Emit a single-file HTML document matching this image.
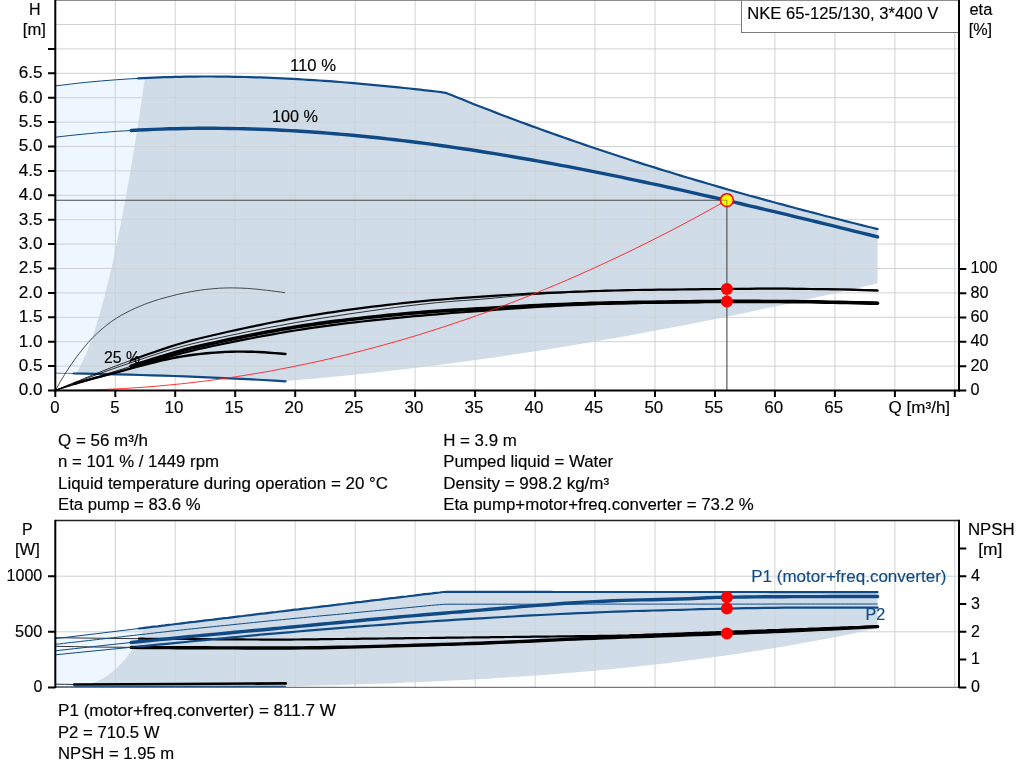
<!DOCTYPE html>
<html lang="en"><head><meta charset="utf-8"><title>NKE 65-125/130, 3*400 V</title>
<style>
html,body{margin:0;padding:0;background:#fff;overflow:hidden}
body{width:1024px;height:781px;position:relative;font-family:'Liberation Sans', Arial, sans-serif}
svg text{white-space:pre;stroke-width:0.15px;paint-order:stroke}
</style></head><body>
<svg width="1024" height="781" viewBox="0 0 1024 781" style="position:absolute;left:0;top:0">
<rect x="0" y="0" width="1024" height="781" fill="#fff"/>
<path d="M55.3 85.9L58.4 85.5L61.5 85.1L64.6 84.8L67.7 84.4L70.7 84L73.8 83.7L76.9 83.3L80 83L83.1 82.7L86.2 82.4L89.3 82.1L92.4 81.8L95.4 81.5L98.5 81.2L101.6 80.9L104.7 80.7L107.8 80.4L110.9 80.2L114 79.9L117.1 79.7L120.1 79.5L123.2 79.3L126.3 79.1L129.4 78.9L132.5 78.7L135.6 78.5L138.7 78.4L141.8 78.2L144.9 78L144.9 78L143.1 90.1L141.3 102L139.6 113.7L137.8 125.2L136 136.4L134.3 147.3L132.5 158L130.8 168.5L129 178.8L127.2 188.8L125.5 198.5L123.7 208L122 217.3L120.2 226.3L118.4 235.1L116.7 243.6L114.9 251.9L113.2 260L111.4 267.8L109.6 275.4L107.9 282.7L106.1 289.8L104.4 296.7L102.6 303.3L100.8 309.7L99.1 315.8L97.3 321.7L95.6 327.3L93.8 332.7L92 337.9L90.3 342.8L88.5 347.5L86.8 351.9L85 356.1L83.2 360.1L81.5 363.8L79.7 367.3L78 370.5L76.2 373.5L76.2 373.5L71 373.4L65.8 373.4L60.5 373.3L55.3 373.2Z" fill="#eef6ff"/>
<path d="M76.2 373.5L78 370.5L79.7 367.3L81.5 363.8L83.2 360.1L85 356.1L86.8 351.9L88.5 347.5L90.3 342.8L92 337.9L93.8 332.7L95.6 327.3L97.3 321.7L99.1 315.8L100.8 309.7L102.6 303.3L104.4 296.7L106.1 289.8L107.9 282.7L109.6 275.4L111.4 267.8L113.2 260L114.9 251.9L116.7 243.6L118.4 235.1L120.2 226.3L122 217.3L123.7 208L125.5 198.5L127.2 188.8L129 178.8L130.8 168.5L132.5 158L134.3 147.3L136 136.4L137.8 125.2L139.6 113.7L141.3 102L143.1 90.1L144.9 78L144.9 78L151 77.8L157.2 77.5L163.3 77.3L169.5 77.1L175.6 76.9L181.8 76.8L188 76.7L194.1 76.6L200.3 76.6L206.4 76.5L212.6 76.5L218.7 76.6L224.9 76.6L231.1 76.7L237.2 76.8L243.4 76.9L249.5 77.1L255.7 77.3L261.8 77.5L268 77.7L274.2 78L280.3 78.3L286.5 78.5L292.6 78.9L298.8 79.2L304.9 79.6L311.1 80L317.3 80.4L323.4 80.8L329.6 81.2L335.7 81.7L341.9 82.2L348 82.7L354.2 83.2L360.4 83.7L366.5 84.3L372.7 84.8L378.8 85.4L385 86L391.2 86.6L397.3 87.2L403.5 87.9L409.6 88.5L415.8 89.2L421.9 89.9L428.1 90.6L434.3 91.3L440.4 92L446.6 93.1L452.7 95.6L458.9 98.1L465 100.6L471.2 103L477.4 105.4L483.5 107.9L489.7 110.2L495.8 112.6L502 115L508.1 117.3L514.3 119.6L520.5 121.9L526.6 124.2L532.8 126.4L538.9 128.7L545.1 130.9L551.2 133.1L557.4 135.3L563.6 137.4L569.7 139.6L575.9 141.7L582 143.8L588.2 145.9L594.4 148L600.5 150.1L606.7 152.1L612.8 154.2L619 156.2L625.1 158.2L631.3 160.2L637.5 162.1L643.6 164.1L649.8 166L655.9 168L662.1 169.9L668.2 171.8L674.4 173.6L680.6 175.5L686.7 177.4L692.9 179.2L699 181L705.2 182.9L711.3 184.7L717.5 186.4L723.7 188.2L729.8 190L736 191.7L742.1 193.5L748.3 195.2L754.4 196.9L760.6 198.6L766.8 200.3L772.9 202L779.1 203.7L785.2 205.3L791.4 207L797.6 208.6L803.7 210.3L809.9 211.9L816 213.5L822.2 215.1L828.3 216.7L834.5 218.3L840.7 219.8L846.8 221.4L853 223L859.1 224.5L865.3 226L871.4 227.6L877.6 229.1L877.6 283.3L862.4 286.9L847.2 290.4L832.1 293.9L816.9 297.3L801.7 300.7L786.5 304L771.3 307.3L756.2 310.5L741 313.7L725.8 316.8L710.6 319.9L695.4 322.9L680.3 325.9L665.1 328.8L649.9 331.6L634.7 334.4L619.5 337.2L604.4 339.8L589.2 342.5L574 345L558.8 347.5L543.7 349.9L528.5 352.3L513.3 354.6L498.1 356.9L482.9 359L467.8 361.1L452.6 363.2L437.4 365.1L422.2 367.1L407 368.9L391.9 370.6L376.7 372.3L361.5 374L346.3 375.5L331.1 377L316 378.4L300.8 379.7L285.6 380.9L285.6 381.3L274.6 380.6L263.6 380L252.5 379.4L241.5 378.9L230.5 378.4L219.5 377.9L208.5 377.4L197.4 376.9L186.4 376.5L175.4 376.1L164.4 375.7L153.3 375.3L142.3 375L131.3 374.7L120.3 374.4L109.3 374.2L98.2 373.9L87.2 373.7L76.2 373.5Z" fill="#d0dce8"/>
<path d="M115.3 0V390.5M175.2 0V390.5M235.2 0V390.5M295.2 0V390.5M355.2 0V390.5M415.1 0V390.5M475.1 0V390.5M535.1 0V390.5M595 0V390.5M655 0V390.5M715 0V390.5M774.9 0V390.5M834.9 0V390.5M894.9 0V390.5M954.8 0V390.5M55.3 366.1H959M55.3 341.7H959M55.3 317.3H959M55.3 292.9H959M55.3 268.5H959M55.3 244.1H959M55.3 219.7H959M55.3 195.3H959M55.3 170.9H959M55.3 146.5H959M55.3 122.1H959M55.3 97.7H959M55.3 73.3H959M55.3 48.9H959M55.3 24.5H959" stroke="#ced2d4" stroke-width="1" fill="none"/>
<rect x="741.5" y="0.5" width="218" height="32" fill="#fff" stroke="#7c7c7c" stroke-width="1"/>
<path d="M55.3 0.5H959" stroke="#8c8c8c" stroke-width="1"/>
<path d="M55.3 200.2H726.9V390.5" stroke="#484b4e" stroke-width="1.1" fill="none"/>
<g font-family="'Liberation Sans', Arial, sans-serif" font-size="16">
<text x="290" y="71.2" text-anchor="start" fill="#000" stroke="#000" font-size="16" textLength="46" lengthAdjust="spacingAndGlyphs">110 %</text>
<text x="272" y="121.6" text-anchor="start" fill="#000" stroke="#000" font-size="16" textLength="46" lengthAdjust="spacingAndGlyphs">100 %</text>
<text x="104" y="362.5" text-anchor="start" fill="#000" stroke="#000" font-size="16" textLength="36" lengthAdjust="spacingAndGlyphs">25 %</text>
</g>
<path d="M55.3 85.9L62.8 85L70.4 84.1L77.9 83.2L85.4 82.4L93 81.7L100.5 81L108.1 80.4L115.6 79.8L123.1 79.3L130.7 78.8L138.2 78.4" stroke="#104a86" stroke-width="1" fill="none" stroke-linecap="butt" stroke-linejoin="round"/>
<path d="M138.2 78.4L143.5 78.1L148.8 77.9L154.2 77.6L159.5 77.4L164.8 77.2L170.1 77.1L175.4 76.9L180.8 76.8L186.1 76.7L191.4 76.6L196.7 76.6L202 76.5L207.4 76.5L212.7 76.5L218 76.6L223.3 76.6L228.6 76.7L233.9 76.8L239.3 76.9L244.6 77L249.9 77.1L255.2 77.3L260.5 77.4L265.9 77.6L271.2 77.9L276.5 78.1L281.8 78.3L287.1 78.6L292.5 78.9L297.8 79.2L303.1 79.5L308.4 79.8L313.7 80.1L319.1 80.5L324.4 80.8L329.7 81.2L335 81.6L340.3 82L345.7 82.5L351 82.9L356.3 83.3L361.6 83.8L366.9 84.3L372.3 84.8L377.6 85.3L382.9 85.8L388.2 86.3L393.5 86.9L398.9 87.4L404.2 88L409.5 88.5L414.8 89.1L420.1 89.7L425.4 90.3L430.8 90.9L436.1 91.5L441.4 92.1L446.7 93.2L452 95.3L457.4 97.5L462.7 99.6L468 101.7L473.3 103.9L478.6 106L484 108L489.3 110.1L494.6 112.1L499.9 114.2L505.2 116.2L510.6 118.2L515.9 120.2L521.2 122.2L526.5 124.1L531.8 126.1L537.2 128L542.5 130L547.8 131.9L553.1 133.8L558.4 135.6L563.8 137.5L569.1 139.4L574.4 141.2L579.7 143L585 144.9L590.4 146.7L595.7 148.5L601 150.2L606.3 152L611.6 153.8L616.9 155.5L622.3 157.3L627.6 159L632.9 160.7L638.2 162.4L643.5 164.1L648.9 165.7L654.2 167.4L659.5 169.1L664.8 170.7L670.1 172.3L675.5 174L680.8 175.6L686.1 177.2L691.4 178.8L696.7 180.4L702.1 181.9L707.4 183.5L712.7 185L718 186.6L723.3 188.1L728.7 189.7L734 191.2L739.3 192.7L744.6 194.2L749.9 195.7L755.3 197.1L760.6 198.6L765.9 200.1L771.2 201.5L776.5 203L781.9 204.4L787.2 205.9L792.5 207.3L797.8 208.7L803.1 210.1L808.4 211.5L813.8 212.9L819.1 214.3L824.4 215.7L829.7 217L835 218.4L840.4 219.8L845.7 221.1L851 222.5L856.3 223.8L861.6 225.1L867 226.5L872.3 227.8L877.6 229.1" stroke="#104a86" stroke-width="2.2" fill="none" stroke-linecap="round" stroke-linejoin="round"/>
<path d="M55.3 137.2L62.2 136.4L69.1 135.6L76 134.9L82.9 134.2L89.8 133.5L96.7 132.9L103.6 132.4L110.5 131.8L117.4 131.3L124.3 130.9L131.2 130.5" stroke="#104a86" stroke-width="1" fill="none" stroke-linecap="butt" stroke-linejoin="round"/>
<path d="M131.2 130.5L138.7 130L146.3 129.7L153.8 129.4L161.4 129.1L168.9 128.8L176.4 128.7L184 128.5L191.5 128.4L199.1 128.3L206.6 128.3L214.1 128.3L221.7 128.4L229.2 128.5L236.8 128.6L244.3 128.8L251.8 129L259.4 129.2L266.9 129.5L274.4 129.8L282 130.2L289.5 130.6L297.1 131L304.6 131.5L312.1 132L319.7 132.5L327.2 133.1L334.8 133.7L342.3 134.4L349.8 135L357.4 135.7L364.9 136.5L372.5 137.2L380 138L387.5 138.9L395.1 139.7L402.6 140.6L410.2 141.5L417.7 142.5L425.2 143.4L432.8 144.4L440.3 145.5L447.9 146.5L455.4 147.6L462.9 148.7L470.5 149.8L478 151L485.6 152.2L493.1 153.4L500.6 154.6L508.2 155.9L515.7 157.2L523.2 158.5L530.8 159.8L538.3 161.1L545.9 162.5L553.4 163.9L560.9 165.3L568.5 166.7L576 168.2L583.6 169.6L591.1 171.1L598.6 172.6L606.2 174.1L613.7 175.7L621.3 177.2L628.8 178.8L636.3 180.4L643.9 182L651.4 183.6L659 185.2L666.5 186.9L674 188.5L681.6 190.2L689.1 191.9L696.7 193.6L704.2 195.3L711.7 197L719.3 198.7L726.8 200.5L734.4 202.2L741.9 204L749.4 205.8L757 207.5L764.5 209.3L772 211.1L779.6 212.9L787.1 214.7L794.7 216.6L802.2 218.4L809.7 220.2L817.3 222L824.8 223.9L832.4 225.7L839.9 227.6L847.4 229.4L855 231.3L862.5 233.1L870.1 235L877.6 236.9" stroke="#104a86" stroke-width="3.4" fill="none" stroke-linecap="round" stroke-linejoin="round"/>
<path d="M55.3 373.2L61.4 373.3L67.5 373.4L73.6 373.5" stroke="#5f7fa8" stroke-width="1" fill="none" stroke-linecap="butt" stroke-linejoin="round"/>
<path d="M73.6 373.5L84.8 373.7L95.9 373.9L107.1 374.1L118.2 374.4L129.4 374.6L140.5 375L151.7 375.3L162.9 375.6L174 376L185.2 376.4L196.3 376.9L207.5 377.3L218.7 377.8L229.8 378.3L241 378.9L252.1 379.4L263.3 380L274.4 380.6L285.6 381.3" stroke="#104a86" stroke-width="2.2" fill="none" stroke-linecap="round" stroke-linejoin="round"/>
<path d="M55.3 390.5L60 382.2L64.7 374.4L69.4 367.1L74.1 360.3L78.8 354L83.5 348.1L88.1 342.6L92.8 337.6L97.5 333L102.2 328.8L106.9 324.9L111.6 321.4L116.3 318.3L121 315.4L125.7 312.9L130.4 310.5L135.1 308.3L139.8 306.3L144.4 304.4L149.1 302.7L153.8 301L158.5 299.5L163.2 298.2L167.9 296.9L172.6 295.7L177.3 294.5L182 293.5L186.7 292.5L191.4 291.6L196.1 290.8L200.7 290.1L205.4 289.5L210.1 289L214.8 288.6L219.5 288.2L224.2 288L228.9 287.9L233.6 287.9L238.3 288L243 288.2L247.7 288.4L252.4 288.8L257 289.2L261.7 289.7L266.4 290.2L271.1 290.8L275.8 291.4L280.5 292L285.2 292.7" stroke="#1a1a1a" stroke-width="0.75" fill="none" stroke-linecap="butt" stroke-linejoin="round"/>
<path d="M55.3 390.5L59.1 389L62.9 387.6L66.6 386.3L70.4 385L74.2 383.8" stroke="#000" stroke-width="0.8" fill="none" stroke-linecap="butt" stroke-linejoin="round"/>
<path d="M74.2 383.8L79.6 382.2L85 380.6L90.5 379.1L95.9 377.7L101.3 376.3L106.7 374.9L112.1 373.5L117.5 372.1L123 370.6L128.4 369.2L133.8 367.7L139.2 366.2L144.6 364.8L150.1 363.4L155.5 362L160.9 360.7L166.3 359.5L171.7 358.4L177.1 357.3L182.6 356.4L188 355.5L193.4 354.8L198.8 354.1L204.2 353.5L209.6 353L215.1 352.6L220.5 352.2L225.9 351.9L231.3 351.7L236.7 351.6L242.2 351.6L247.6 351.7L253 351.8L258.4 352L263.8 352.3L269.2 352.7L274.7 353.1L280.1 353.5L285.5 354" stroke="#000" stroke-width="2.4" fill="none" stroke-linecap="round" stroke-linejoin="round"/>
<path d="M55.3 390.5L59.3 388.8L63.3 387.1L67.3 385.4L71.3 383.8L75.3 382.1L79.3 380.5L83.3 378.8L87.3 377.2L91.3 375.6L95.2 374L99.2 372.4L103.2 370.8L107.2 369.2L111.2 367.7L115.2 366.2L119.2 364.7L123.2 363.2L127.2 361.7L131.2 360.3" stroke="#000" stroke-width="0.8" fill="none" stroke-linecap="butt" stroke-linejoin="round"/>
<path d="M131.2 360.3L138.7 357.5L146.3 354.8L153.8 352.2L161.4 349.6L168.9 347.1L176.4 344.8L184 342.5L191.5 340.4L199.1 338.5L206.6 336.7L214.1 335L221.7 333.3L229.2 331.5L236.8 329.9L244.3 328.2L251.8 326.6L259.4 325.1L266.9 323.5L274.4 322L282 320.6L289.5 319.2L297.1 317.8L304.6 316.5L312.1 315.3L319.7 314.1L327.2 312.9L334.8 311.8L342.3 310.7L349.8 309.7L357.4 308.7L364.9 307.7L372.5 306.7L380 305.8L387.5 304.9L395.1 304L402.6 303.2L410.2 302.4L417.7 301.6L425.2 300.9L432.8 300.2L440.3 299.6L447.9 299L455.4 298.4L462.9 297.9L470.5 297.4L478 296.9L485.6 296.4L493.1 295.9L500.6 295.4L508.2 295L515.7 294.5L523.2 294L530.8 293.6L538.3 293.3L545.9 292.9L553.4 292.6L560.9 292.3L568.5 292L576 291.7L583.6 291.5L591.1 291.2L598.6 291L606.2 290.7L613.7 290.5L621.3 290.3L628.8 290.1L636.3 290L643.9 289.9L651.4 289.8L659 289.7L666.5 289.7L674 289.6L681.6 289.5L689.1 289.4L696.7 289.3L704.2 289.2L711.7 289.1L719.3 289L726.8 288.9L734.4 288.9L741.9 288.8L749.4 288.8L757 288.7L764.5 288.7L772 288.7L779.6 288.7L787.1 288.7L794.7 288.8L802.2 288.9L809.7 289L817.3 289.1L824.8 289.2L832.4 289.3L839.9 289.5L847.4 289.7L855 289.9L862.5 290.1L870.1 290.3L877.6 290.6" stroke="#000" stroke-width="2.2" fill="none" stroke-linecap="round" stroke-linejoin="round"/>
<path d="M55.3 390.5L63.6 387.2L71.9 383.9L80.2 380.8L88.5 377.7L96.8 374.6L105.1 371.6L113.4 368.7L121.7 365.8L130.1 363L138.4 360.1L146.7 357.3L155 354.6L163.3 351.9L171.6 349.4L179.9 347L188.2 344.8L196.5 342.8L204.8 340.9L213.1 339.1L221.4 337.3L229.7 335.5L238 333.8L246.3 332L254.6 330.4L263 328.7L271.3 327.1L279.6 325.6L287.9 324L296.2 322.5L304.5 321.1L312.8 319.7L321.1 318.3L329.4 317L337.7 315.7L346 314.4L354.3 313.2L362.6 312L370.9 310.8L379.2 309.6L387.5 308.5L395.8 307.4L404.2 306.3L412.5 305.3L420.8 304.4L429.1 303.5L437.4 302.6L445.7 301.9L454 301.2L462.3 300.6L470.6 300L478.9 299.4L487.2 298.7L495.5 297.9L503.8 297.1L512.1 296.3L520.4 295.6L528.7 294.9L537.1 294.3L545.4 293.8L553.7 293.3L562 292.9L570.3 292.5L578.6 292.1L586.9 291.7L595.2 291.4L603.5 291.1L611.8 290.8L620.1 290.5L628.4 290.2L636.7 290L645 289.9L653.3 289.7L661.6 289.6L669.9 289.5L678.3 289.3L686.6 289.2L694.9 289.1L703.2 288.9L711.5 288.8L719.8 288.7L728.1 288.6L736.4 288.5L744.7 288.4L753 288.4L761.3 288.3L769.6 288.3L777.9 288.3L786.2 288.3L794.5 288.4L802.8 288.4L811.2 288.5L819.5 288.6L827.8 288.7L836.1 288.8L844.4 289L852.7 289.2L861 289.4L869.3 289.6L877.6 289.8" stroke="#000" stroke-width="0.8" fill="none" stroke-linecap="butt" stroke-linejoin="round"/>
<path d="M55.3 390.5L59.3 389.1L63.3 387.8L67.3 386.5L71.3 385.2L75.3 383.9L79.3 382.6L83.3 381.3L87.3 380L91.3 378.8L95.2 377.5L99.2 376.3L103.2 375L107.2 373.8L111.2 372.5L115.2 371.3L119.2 370L123.2 368.8L127.2 367.5L131.2 366.2" stroke="#000" stroke-width="0.8" fill="none" stroke-linecap="butt" stroke-linejoin="round"/>
<path d="M131.2 366.2L138.7 363.8L146.3 361.4L153.8 359L161.4 356.7L168.9 354.4L176.4 352.2L184 350.1L191.5 348.1L199.1 346.2L206.6 344.5L214.1 342.9L221.7 341.2L229.2 339.6L236.8 338L244.3 336.5L251.8 335L259.4 333.5L266.9 332.1L274.4 330.7L282 329.3L289.5 328L297.1 326.8L304.6 325.6L312.1 324.5L319.7 323.4L327.2 322.4L334.8 321.4L342.3 320.5L349.8 319.5L357.4 318.7L364.9 317.8L372.5 317L380 316.2L387.5 315.4L395.1 314.7L402.6 314L410.2 313.3L417.7 312.7L425.2 312.1L432.8 311.5L440.3 311L447.9 310.5L455.4 310.1L462.9 309.7L470.5 309.3L478 308.9L485.6 308.5L493.1 308L500.6 307.6L508.2 307.1L515.7 306.7L523.2 306.2L530.8 305.8L538.3 305.5L545.9 305.1L553.4 304.8L560.9 304.5L568.5 304.2L576 303.9L583.6 303.7L591.1 303.4L598.6 303.2L606.2 303L613.7 302.8L621.3 302.7L628.8 302.5L636.3 302.4L643.9 302.3L651.4 302.2L659 302.1L666.5 302L674 301.9L681.6 301.8L689.1 301.7L696.7 301.6L704.2 301.5L711.7 301.5L719.3 301.4L726.8 301.4L734.4 301.4L741.9 301.4L749.4 301.4L757 301.4L764.5 301.5L772 301.5L779.6 301.5L787.1 301.6L794.7 301.6L802.2 301.7L809.7 301.8L817.3 301.9L824.8 302.1L832.4 302.2L839.9 302.4L847.4 302.5L855 302.7L862.5 302.9L870.1 303.1L877.6 303.3" stroke="#000" stroke-width="3.6" fill="none" stroke-linecap="round" stroke-linejoin="round"/>
<path d="M55.3 390.5L59.7 389.1L64 387.8L68.4 386.5L72.8 385.2L77.1 383.9L81.5 382.6L85.8 381.4L90.2 380.1L94.6 378.9L98.9 377.7L103.3 376.5L107.7 375.2L112 374L116.4 372.7L120.7 371.5L125.1 370.2L129.5 368.8L133.8 367.5L138.2 366.2" stroke="#000" stroke-width="0.8" fill="none" stroke-linecap="butt" stroke-linejoin="round"/>
<path d="M138.2 366.2L145.7 363.9L153.1 361.6L160.6 359.3L168.1 357.1L175.5 355L183 353L190.5 351.1L197.9 349.3L205.4 347.6L212.9 346L220.4 344.5L227.8 342.9L235.3 341.4L242.8 339.9L250.2 338.5L257.7 337L265.2 335.6L272.6 334.3L280.1 333L287.6 331.7L295 330.5L302.5 329.3L310 328.2L317.4 327.1L324.9 326.1L332.4 325.1L339.9 324.1L347.3 323.2L354.8 322.3L362.3 321.5L369.7 320.7L377.2 319.9L384.7 319.1L392.1 318.4L399.6 317.6L407.1 316.9L414.5 316.2L422 315.6L429.5 314.9L436.9 314.3L444.4 313.6L451.9 313L459.4 312.5L466.8 312L474.3 311.4L481.8 310.9L489.2 310.3L496.7 309.7L504.2 309.2L511.6 308.6L519.1 308.1L526.6 307.6L534 307.1L541.5 306.7L549 306.3L556.4 305.9L563.9 305.5L571.4 305.2L578.9 304.8L586.3 304.5L593.8 304.2L601.3 304L608.7 303.8L616.2 303.5L623.7 303.3L631.1 303.2L638.6 303L646.1 302.9L653.5 302.7L661 302.6L668.5 302.5L675.9 302.4L683.4 302.3L690.9 302.2L698.4 302.1L705.8 302L713.3 301.9L720.8 301.8L728.2 301.8L735.7 301.8L743.2 301.7L750.6 301.7L758.1 301.7L765.6 301.7L773 301.7L780.5 301.7L788 301.7L795.4 301.8L802.9 301.8L810.4 301.9L817.9 301.9L825.3 302L832.8 302.1L840.3 302.2L847.7 302.3L855.2 302.5L862.7 302.6L870.1 302.7L877.6 302.9" stroke="#000" stroke-width="2.2" fill="none" stroke-linecap="round" stroke-linejoin="round"/>
<path d="M55.3 390.5L66.7 390.4L78.1 390.3L89.4 390L100.8 389.6L112.2 389.1L123.6 388.5L135 387.8L146.4 387L157.7 386.1L169.1 385L180.5 383.9L191.9 382.6L203.3 381.3L214.7 379.8L226 378.2L237.4 376.5L248.8 374.7L260.2 372.8L271.6 370.8L283 368.6L294.3 366.4L305.7 364L317.1 361.6L328.5 359L339.9 356.3L351.3 353.5L362.6 350.6L374 347.6L385.4 344.5L396.8 341.3L408.2 338L419.6 334.5L430.9 331L442.3 327.3L453.7 323.5L465.1 319.7L476.5 315.7L487.9 311.6L499.2 307.3L510.6 303L522 298.6L533.4 294.1L544.8 289.4L556.2 284.7L567.5 279.8L578.9 274.8L590.3 269.7L601.7 264.5L613.1 259.2L624.5 253.8L635.8 248.3L647.2 242.7L658.6 236.9L670 231.1L681.4 225.1L692.8 219.1L704.1 212.9L715.5 206.6L726.9 200.2" stroke="#ff2020" stroke-width="0.9" fill="none"/>
<path d="M55.3 0V391.5" stroke="#000" stroke-width="2"/>
<path d="M959 0V391.5" stroke="#000" stroke-width="2"/>
<path d="M54.3 390.5H960" stroke="#000" stroke-width="2"/>
<path d="M48 390.5H55.3M48 366.1H55.3M48 341.7H55.3M48 317.3H55.3M48 292.9H55.3M48 268.5H55.3M48 244.1H55.3M48 219.7H55.3M48 195.3H55.3M48 170.9H55.3M48 146.5H55.3M48 122.1H55.3M48 97.7H55.3M48 73.3H55.3M48 48.9H55.3M55.3 390.5V397M115.3 390.5V397M175.2 390.5V397M235.2 390.5V397M295.2 390.5V397M355.2 390.5V397M415.1 390.5V397M475.1 390.5V397M535.1 390.5V397M595 390.5V397M655 390.5V397M715 390.5V397M774.9 390.5V397M834.9 390.5V397M894.9 390.5V397M954.8 390.5V397M959 390.5H966.3M959 366.2H966.3M959 341.8H966.3M959 317.5H966.3M959 293.2H966.3M959 268.9H966.3" stroke="#000" stroke-width="2" fill="none"/>
<circle cx="726.9" cy="200.2" r="6.4" fill="#ffff00" stroke="#ff0000" stroke-width="1.6"/>
<path d="M719.9 200.2H726.9V207.2" stroke="#4c5258" stroke-opacity="0.6" stroke-width="1" fill="none"/>
<circle cx="726.9" cy="288.9" r="6" fill="#ff0000"/>
<circle cx="726.9" cy="301.4" r="6" fill="#ff0000"/>
<g font-family="'Liberation Sans', Arial, sans-serif" font-size="16" fill="#000">
<text x="34.8" y="14.6" text-anchor="middle" fill="#000" stroke="#000" font-size="16">H</text>
<text x="34.3" y="34.6" text-anchor="middle" fill="#000" stroke="#000" font-size="16" textLength="23" lengthAdjust="spacingAndGlyphs">[m]</text>
<text x="42.6" y="395.3" text-anchor="end" fill="#000" stroke="#000" font-size="16" textLength="23.8" lengthAdjust="spacingAndGlyphs">0.0</text>
<text x="42.6" y="370.9" text-anchor="end" fill="#000" stroke="#000" font-size="16" textLength="23.8" lengthAdjust="spacingAndGlyphs">0.5</text>
<text x="42.6" y="346.5" text-anchor="end" fill="#000" stroke="#000" font-size="16" textLength="23.8" lengthAdjust="spacingAndGlyphs">1.0</text>
<text x="42.6" y="322.1" text-anchor="end" fill="#000" stroke="#000" font-size="16" textLength="23.8" lengthAdjust="spacingAndGlyphs">1.5</text>
<text x="42.6" y="297.7" text-anchor="end" fill="#000" stroke="#000" font-size="16" textLength="23.8" lengthAdjust="spacingAndGlyphs">2.0</text>
<text x="42.6" y="273.3" text-anchor="end" fill="#000" stroke="#000" font-size="16" textLength="23.8" lengthAdjust="spacingAndGlyphs">2.5</text>
<text x="42.6" y="248.9" text-anchor="end" fill="#000" stroke="#000" font-size="16" textLength="23.8" lengthAdjust="spacingAndGlyphs">3.0</text>
<text x="42.6" y="224.5" text-anchor="end" fill="#000" stroke="#000" font-size="16" textLength="23.8" lengthAdjust="spacingAndGlyphs">3.5</text>
<text x="42.6" y="200.1" text-anchor="end" fill="#000" stroke="#000" font-size="16" textLength="23.8" lengthAdjust="spacingAndGlyphs">4.0</text>
<text x="42.6" y="175.7" text-anchor="end" fill="#000" stroke="#000" font-size="16" textLength="23.8" lengthAdjust="spacingAndGlyphs">4.5</text>
<text x="42.6" y="151.3" text-anchor="end" fill="#000" stroke="#000" font-size="16" textLength="23.8" lengthAdjust="spacingAndGlyphs">5.0</text>
<text x="42.6" y="126.9" text-anchor="end" fill="#000" stroke="#000" font-size="16" textLength="23.8" lengthAdjust="spacingAndGlyphs">5.5</text>
<text x="42.6" y="102.5" text-anchor="end" fill="#000" stroke="#000" font-size="16" textLength="23.8" lengthAdjust="spacingAndGlyphs">6.0</text>
<text x="42.6" y="78.1" text-anchor="end" fill="#000" stroke="#000" font-size="16" textLength="23.8" lengthAdjust="spacingAndGlyphs">6.5</text>
<text x="54.8" y="412.8" text-anchor="middle" fill="#000" stroke="#000" font-size="16" textLength="9.3" lengthAdjust="spacingAndGlyphs">0</text>
<text x="114.8" y="412.8" text-anchor="middle" fill="#000" stroke="#000" font-size="16" textLength="9.3" lengthAdjust="spacingAndGlyphs">5</text>
<text x="174" y="412.8" text-anchor="middle" fill="#000" stroke="#000" font-size="16" textLength="18.8" lengthAdjust="spacingAndGlyphs">10</text>
<text x="234" y="412.8" text-anchor="middle" fill="#000" stroke="#000" font-size="16" textLength="18.8" lengthAdjust="spacingAndGlyphs">15</text>
<text x="294" y="412.8" text-anchor="middle" fill="#000" stroke="#000" font-size="16" textLength="18.8" lengthAdjust="spacingAndGlyphs">20</text>
<text x="354" y="412.8" text-anchor="middle" fill="#000" stroke="#000" font-size="16" textLength="18.8" lengthAdjust="spacingAndGlyphs">25</text>
<text x="413.9" y="412.8" text-anchor="middle" fill="#000" stroke="#000" font-size="16" textLength="18.8" lengthAdjust="spacingAndGlyphs">30</text>
<text x="473.9" y="412.8" text-anchor="middle" fill="#000" stroke="#000" font-size="16" textLength="18.8" lengthAdjust="spacingAndGlyphs">35</text>
<text x="533.9" y="412.8" text-anchor="middle" fill="#000" stroke="#000" font-size="16" textLength="18.8" lengthAdjust="spacingAndGlyphs">40</text>
<text x="593.8" y="412.8" text-anchor="middle" fill="#000" stroke="#000" font-size="16" textLength="18.8" lengthAdjust="spacingAndGlyphs">45</text>
<text x="653.8" y="412.8" text-anchor="middle" fill="#000" stroke="#000" font-size="16" textLength="18.8" lengthAdjust="spacingAndGlyphs">50</text>
<text x="713.8" y="412.8" text-anchor="middle" fill="#000" stroke="#000" font-size="16" textLength="18.8" lengthAdjust="spacingAndGlyphs">55</text>
<text x="773.7" y="412.8" text-anchor="middle" fill="#000" stroke="#000" font-size="16" textLength="18.8" lengthAdjust="spacingAndGlyphs">60</text>
<text x="833.7" y="412.8" text-anchor="middle" fill="#000" stroke="#000" font-size="16" textLength="18.8" lengthAdjust="spacingAndGlyphs">65</text>
<text x="888.6" y="413.2" text-anchor="start" fill="#000" stroke="#000" font-size="16" textLength="61.5" lengthAdjust="spacingAndGlyphs">Q [m³/h]</text>
<text x="969.5" y="14.8" text-anchor="start" fill="#000" stroke="#000" font-size="16" textLength="22.8" lengthAdjust="spacingAndGlyphs">eta</text>
<text x="968.7" y="35.2" text-anchor="start" fill="#000" stroke="#000" font-size="16" textLength="23.4" lengthAdjust="spacingAndGlyphs">[%]</text>
<text x="970.6" y="394.8" text-anchor="start" fill="#000" stroke="#000" font-size="16" textLength="9" lengthAdjust="spacingAndGlyphs">0</text>
<text x="970.6" y="370.5" text-anchor="start" fill="#000" stroke="#000" font-size="16" textLength="18" lengthAdjust="spacingAndGlyphs">20</text>
<text x="970.6" y="346.1" text-anchor="start" fill="#000" stroke="#000" font-size="16" textLength="18" lengthAdjust="spacingAndGlyphs">40</text>
<text x="970.6" y="321.8" text-anchor="start" fill="#000" stroke="#000" font-size="16" textLength="18" lengthAdjust="spacingAndGlyphs">60</text>
<text x="970.6" y="297.5" text-anchor="start" fill="#000" stroke="#000" font-size="16" textLength="18" lengthAdjust="spacingAndGlyphs">80</text>
<text x="970.6" y="273.2" text-anchor="start" fill="#000" stroke="#000" font-size="16" textLength="27" lengthAdjust="spacingAndGlyphs">100</text>
<text x="747.3" y="18.8" text-anchor="start" fill="#000" stroke="#000" font-size="16" textLength="191" lengthAdjust="spacingAndGlyphs">NKE 65-125/130, 3*400 V</text>
<text x="58" y="445.8" text-anchor="start" fill="#000" stroke="#000" font-size="16" textLength="90" lengthAdjust="spacingAndGlyphs">Q = 56 m³/h</text>
<text x="58" y="467.3" text-anchor="start" fill="#000" stroke="#000" font-size="16" textLength="161" lengthAdjust="spacingAndGlyphs">n = 101 % / 1449 rpm</text>
<text x="58" y="488.8" text-anchor="start" fill="#000" stroke="#000" font-size="16" textLength="330" lengthAdjust="spacingAndGlyphs">Liquid temperature during operation = 20 °C</text>
<text x="58" y="510.2" text-anchor="start" fill="#000" stroke="#000" font-size="16" textLength="142.5" lengthAdjust="spacingAndGlyphs">Eta pump = 83.6 %</text>
<text x="443.2" y="445.8" text-anchor="start" fill="#000" stroke="#000" font-size="16" textLength="73.6" lengthAdjust="spacingAndGlyphs">H = 3.9 m</text>
<text x="443.2" y="467.3" text-anchor="start" fill="#000" stroke="#000" font-size="16" textLength="170" lengthAdjust="spacingAndGlyphs">Pumped liquid = Water</text>
<text x="443.2" y="488.8" text-anchor="start" fill="#000" stroke="#000" font-size="16" textLength="166" lengthAdjust="spacingAndGlyphs">Density = 998.2 kg/m³</text>
<text x="443.2" y="510.2" text-anchor="start" fill="#000" stroke="#000" font-size="16" textLength="310.5" lengthAdjust="spacingAndGlyphs">Eta pump+motor+freq.converter = 73.2 %</text>
<text x="58" y="716" text-anchor="start" fill="#000" stroke="#000" font-size="16" textLength="278" lengthAdjust="spacingAndGlyphs">P1 (motor+freq.converter) = 811.7 W</text>
<text x="58" y="737.6" text-anchor="start" fill="#000" stroke="#000" font-size="16" textLength="101.5" lengthAdjust="spacingAndGlyphs">P2 = 710.5 W</text>
<text x="58" y="759" text-anchor="start" fill="#000" stroke="#000" font-size="16" textLength="116.2" lengthAdjust="spacingAndGlyphs">NPSH = 1.95 m</text>
</g>
<path d="M55.3 638.6L65.2 637.4L75.1 636.2L85.1 635L95 633.8L104.9 632.6L114.8 631.4L124.8 630.2L134.7 629L144.6 627.8L144.6 627.8L142.8 631.3L141.1 634.6L139.3 637.8L137.5 640.9L135.8 643.8L134 646.6L132.2 649.3L130.4 651.9L128.7 654.3L126.9 656.7L125.1 658.9L123.4 661L121.6 663L119.8 664.9L118.1 666.7L116.3 668.4L114.5 670L112.8 671.5L111 673L109.2 674.3L107.4 675.5L105.7 676.7L103.9 677.8L102.1 678.8L100.4 679.7L98.6 680.6L96.8 681.4L95.1 682.1L93.3 682.8L91.5 683.4L89.8 684L88 684.5L86.2 684.9L84.4 685.3L82.7 685.7L80.9 686L79.1 686.3L77.4 686.5L75.6 686.7L55.3 687.4Z" fill="#eef6ff"/>
<path d="M75.6 686.7L77.4 686.5L79.1 686.3L80.9 686L82.7 685.7L84.4 685.3L86.2 684.9L88 684.5L89.8 684L91.5 683.4L93.3 682.8L95.1 682.1L96.8 681.4L98.6 680.6L100.4 679.7L102.1 678.8L103.9 677.8L105.7 676.7L107.4 675.5L109.2 674.3L111 673L112.8 671.5L114.5 670L116.3 668.4L118.1 666.7L119.8 664.9L121.6 663L123.4 661L125.1 658.9L126.9 656.7L128.7 654.3L130.4 651.9L132.2 649.3L134 646.6L135.8 643.8L137.5 640.9L139.3 637.8L141.1 634.6L142.8 631.3L144.6 627.8L144.6 627.8L157 626.3L169.4 624.8L181.9 623.3L194.3 621.8L206.7 620.3L219.1 618.8L231.6 617.3L244 615.8L256.4 614.3L268.8 612.8L281.3 611.3L293.7 609.9L306.1 608.4L318.5 606.9L331 605.4L343.4 603.9L355.8 602.5L368.2 601L380.7 599.5L393.1 598L405.5 596.5L417.9 595.1L430.3 593.6L442.8 592.1L455.2 591.9L467.6 591.9L480 591.9L492.5 591.9L504.9 591.9L517.3 591.9L529.7 591.9L542.2 591.9L554.6 592L567 592L579.4 592L591.9 592L604.3 592L616.7 592L629.1 592L641.5 592L654 592L666.4 592L678.8 592L691.2 592L703.7 592L716.1 592L728.5 592L740.9 592L753.4 592L765.8 592L778.2 592.1L790.6 592.1L803.1 592.1L815.5 592.1L827.9 592.1L840.3 592.1L852.8 592.1L865.2 592.1L877.6 592.1L877.6 628.3L862.4 631.5L847.3 634.7L832.1 637.7L816.9 640.6L801.7 643.3L786.6 646L771.4 648.5L756.2 651L741 653.3L725.9 655.5L710.7 657.6L695.5 659.6L680.3 661.5L665.2 663.4L650 665.1L634.8 666.7L619.6 668.3L604.5 669.8L589.3 671.2L574.1 672.5L558.9 673.7L543.8 674.9L528.6 676L513.4 677L498.2 678L483.1 678.9L467.9 679.7L452.7 680.5L437.5 681.2L422.4 681.9L407.2 682.6L392 683.2L376.8 683.7L361.7 684.2L346.5 684.7L331.3 685.2L316.1 685.6L301 686L285.8 686.3L75.6 686.7Z" fill="#d0dce8"/>
<path d="M115.3 520.5V687.4M175.2 520.5V687.4M235.2 520.5V687.4M295.2 520.5V687.4M355.2 520.5V687.4M415.1 520.5V687.4M475.1 520.5V687.4M535.1 520.5V687.4M595 520.5V687.4M655 520.5V687.4M715 520.5V687.4M774.9 520.5V687.4M834.9 520.5V687.4M894.9 520.5V687.4M954.8 520.5V687.4M55.3 631.8H959M55.3 576.2H959" stroke="#ced2d4" stroke-width="1" fill="none"/>
<g font-family="'Liberation Sans', Arial, sans-serif" font-size="16">
<text x="751.2" y="581.8" text-anchor="start" fill="#104a86" stroke="#104a86" font-size="16" textLength="195.3" lengthAdjust="spacingAndGlyphs">P1 (motor+freq.converter)</text>
<text x="865.4" y="619.6" text-anchor="start" fill="#104a86" stroke="#104a86" font-size="16" textLength="19.8" lengthAdjust="spacingAndGlyphs">P2</text>
</g>
<path d="M55.3 637.7L97.1 638.2L138.9 638.7" stroke="#333" stroke-width="1" fill="none" stroke-linecap="butt" stroke-linejoin="round"/>
<path d="M138.9 638.7L142.6 638.7L146.3 638.8L150 638.8L153.7 638.8L157.5 638.8L161.2 638.9L164.9 638.9L168.6 638.9L172.3 638.9L176 639L179.7 639L183.4 639L187.2 639L190.9 639.1L194.6 639.1L198.3 639.1L202 639.1L205.7 639.2L209.4 639.2L213.1 639.2L216.9 639.3L220.6 639.3L224.3 639.3L228 639.3L231.7 639.4L235.4 639.4L239.1 639.4L242.8 639.4L246.5 639.5L250.3 639.5L254 639.5L257.7 639.5L261.4 639.6L265.1 639.6L268.8 639.6L272.5 639.6L276.2 639.7L280 639.7L283.7 639.7L287.4 639.6L291.1 639.6L294.8 639.5L298.5 639.5L302.2 639.4L305.9 639.4L309.7 639.4L313.4 639.3L317.1 639.3L320.8 639.2L324.5 639.2L328.2 639.1L331.9 639.1L335.6 639L339.4 639L343.1 639L346.8 638.9L350.5 638.9L354.2 638.8L357.9 638.8L361.6 638.7L365.3 638.7L369 638.7L372.8 638.6L376.5 638.6L380.2 638.5L383.9 638.5L387.6 638.4L391.3 638.4L395 638.3L398.7 638.3L402.5 638.3L406.2 638.2L409.9 638.2L413.6 638.1L417.3 638.1L421 638L424.7 638L428.4 638L432.2 637.9L435.9 637.9L439.6 637.8L443.3 637.8L447 637.7L450.7 637.7L454.4 637.6L458.1 637.6L461.8 637.6L465.6 637.5L469.3 637.5L473 637.4L476.7 637.4L480.4 637.3L484.1 637.3L487.8 637.3L491.5 637.2L495.3 637.2L499 637.1L502.7 637.1L506.4 637L510.1 637L513.8 636.9L517.5 636.9L521.2 636.9L525 636.8L528.7 636.8L532.4 636.7L536.1 636.7L539.8 636.6L543.5 636.6L547.2 636.6L550.9 636.5L554.7 636.5L558.4 636.4L562.1 636.4L565.8 636.3L569.5 636.3L573.2 636.3L576.9 636.2L580.6 636.2L584.3 636.1L588.1 636.1L591.8 636L595.5 636L599.2 635.9L602.9 635.9L606.6 635.9L610.3 635.8L614 635.8L617.8 635.7L621.5 635.6L625.2 635.5L628.9 635.4L632.6 635.2L636.3 635.1L640 635L643.7 634.8L647.5 634.7L651.2 634.6L654.9 634.4L658.6 634.3L662.3 634.2L666 634L669.7 633.9L673.4 633.8L677.1 633.6L680.9 633.5L684.6 633.3L688.3 633.2L692 633.1L695.7 632.9L699.4 632.8L703.1 632.7L706.8 632.5L710.6 632.4L714.3 632.3L718 632.1L721.7 632L725.4 631.9L729.1 631.7L732.8 631.6L736.5 631.4L740.3 631.3L744 631.2L747.7 631L751.4 630.9L755.1 630.8L758.8 630.6L762.5 630.5L766.2 630.4L770 630.2L773.7 630.1L777.4 630L781.1 629.8L784.8 629.7L788.5 629.6L792.2 629.4L795.9 629.3L799.6 629.1L803.4 629L807.1 628.9L810.8 628.7L814.5 628.6L818.2 628.5L821.9 628.3L825.6 628.2L829.3 628.1L833.1 627.9L836.8 627.8L840.5 627.7L844.2 627.5L847.9 627.4L851.6 627.2L855.3 627.1L859 627L862.8 626.8L866.5 626.7L870.2 626.6L873.9 626.4L877.6 626.3" stroke="#000" stroke-width="2.2" fill="none" stroke-linecap="round" stroke-linejoin="round"/>
<path d="M55.3 646.3L74.3 646.6L93.2 647L112.2 647.2L131.2 647.4" stroke="#333" stroke-width="1" fill="none" stroke-linecap="butt" stroke-linejoin="round"/>
<path d="M131.2 647.4L140.6 647.5L150.1 647.5L159.5 647.6L169 647.6L178.4 647.7L187.9 647.7L197.3 647.8L206.8 647.8L216.2 647.9L225.7 647.9L235.1 647.9L244.6 648L254 648L263.5 648L272.9 648L282.4 648L291.8 648L301.3 647.9L310.7 647.8L320.2 647.7L329.6 647.5L339.1 647.3L348.5 647.1L358 646.9L367.4 646.6L376.9 646.4L386.3 646.1L395.7 645.8L405.2 645.6L414.6 645.3L424.1 645L433.5 644.7L443 644.4L452.4 644.2L461.9 643.9L471.3 643.5L480.8 643.2L490.2 642.8L499.7 642.4L509.1 642L518.6 641.6L528 641.2L537.5 640.7L546.9 640.3L556.4 639.9L565.8 639.4L575.3 639L584.7 638.6L594.2 638.2L603.6 637.8L613.1 637.5L622.5 637.1L631.9 636.8L641.4 636.5L650.8 636.2L660.3 635.9L669.7 635.5L679.2 635.2L688.6 634.9L698.1 634.6L707.5 634.2L717 633.9L726.4 633.5L735.9 633.1L745.3 632.8L754.8 632.4L764.2 632L773.7 631.6L783.1 631.2L792.6 630.7L802 630.3L811.5 629.9L820.9 629.4L830.4 629L839.8 628.5L849.3 628.1L858.7 627.6L868.2 627.1L877.6 626.6" stroke="#000" stroke-width="3.4" fill="none" stroke-linecap="round" stroke-linejoin="round"/>
<path d="M55.3 684.2L64.8 684.3L74.2 684.5" stroke="#333" stroke-width="1" fill="none" stroke-linecap="butt" stroke-linejoin="round"/>
<path d="M74.2 684.5L180 684L285.8 683.4" stroke="#000" stroke-width="2.6" fill="none" stroke-linecap="round" stroke-linejoin="round"/>
<path d="M55.3 686.6L64.8 686.6L74.2 686.6" stroke="#5a6c88" stroke-width="1" fill="none" stroke-linecap="butt" stroke-linejoin="round"/>
<path d="M74.2 686.6L180 686.5L285.8 686.4" stroke="#104a86" stroke-width="1.5" fill="none" stroke-linecap="butt" stroke-linejoin="round"/>
<path d="M55.3 638.6L97.1 633.6L138.9 628.5" stroke="#104a86" stroke-width="1" fill="none" stroke-linecap="butt" stroke-linejoin="round"/>
<path d="M138.9 628.5L142.6 628.1L146.3 627.6L150 627.2L153.7 626.7L157.5 626.3L161.2 625.8L164.9 625.4L168.6 624.9L172.3 624.5L176 624L179.7 623.6L183.4 623.1L187.2 622.7L190.9 622.2L194.6 621.8L198.3 621.3L202 620.9L205.7 620.4L209.4 620L213.1 619.6L216.9 619.1L220.6 618.7L224.3 618.2L228 617.8L231.7 617.3L235.4 616.9L239.1 616.4L242.8 616L246.5 615.5L250.3 615.1L254 614.6L257.7 614.2L261.4 613.7L265.1 613.3L268.8 612.8L272.5 612.4L276.2 612L280 611.5L283.7 611.1L287.4 610.6L291.1 610.2L294.8 609.7L298.5 609.3L302.2 608.8L305.9 608.4L309.7 608L313.4 607.5L317.1 607.1L320.8 606.6L324.5 606.2L328.2 605.8L331.9 605.3L335.6 604.9L339.4 604.4L343.1 604L346.8 603.5L350.5 603.1L354.2 602.7L357.9 602.2L361.6 601.8L365.3 601.3L369 600.9L372.8 600.4L376.5 600L380.2 599.6L383.9 599.1L387.6 598.7L391.3 598.2L395 597.8L398.7 597.3L402.5 596.9L406.2 596.5L409.9 596L413.6 595.6L417.3 595.1L421 594.7L424.7 594.2L428.4 593.8L432.2 593.4L435.9 592.9L439.6 592.5L443.3 592L447 591.9L450.7 591.9L454.4 591.9L458.1 591.9L461.8 591.9L465.6 591.9L469.3 591.9L473 591.9L476.7 591.9L480.4 591.9L484.1 591.9L487.8 591.9L491.5 591.9L495.3 591.9L499 591.9L502.7 591.9L506.4 591.9L510.1 591.9L513.8 591.9L517.5 591.9L521.2 591.9L525 591.9L528.7 591.9L532.4 591.9L536.1 591.9L539.8 591.9L543.5 591.9L547.2 591.9L550.9 591.9L554.7 592L558.4 592L562.1 592L565.8 592L569.5 592L573.2 592L576.9 592L580.6 592L584.3 592L588.1 592L591.8 592L595.5 592L599.2 592L602.9 592L606.6 592L610.3 592L614 592L617.8 592L621.5 592L625.2 592L628.9 592L632.6 592L636.3 592L640 592L643.7 592L647.5 592L651.2 592L654.9 592L658.6 592L662.3 592L666 592L669.7 592L673.4 592L677.1 592L680.9 592L684.6 592L688.3 592L692 592L695.7 592L699.4 592L703.1 592L706.8 592L710.6 592L714.3 592L718 592L721.7 592L725.4 592L729.1 592L732.8 592L736.5 592L740.3 592L744 592L747.7 592L751.4 592L755.1 592L758.8 592L762.5 592L766.2 592L770 592.1L773.7 592.1L777.4 592.1L781.1 592.1L784.8 592.1L788.5 592.1L792.2 592.1L795.9 592.1L799.6 592.1L803.4 592.1L807.1 592.1L810.8 592.1L814.5 592.1L818.2 592.1L821.9 592.1L825.6 592.1L829.3 592.1L833.1 592.1L836.8 592.1L840.5 592.1L844.2 592.1L847.9 592.1L851.6 592.1L855.3 592.1L859 592.1L862.8 592.1L866.5 592.1L870.2 592.1L873.9 592.1L877.6 592.1" stroke="#104a86" stroke-width="2.2" fill="none" stroke-linecap="round" stroke-linejoin="round"/>
<path d="M55.3 644.3L59.4 643.9L63.6 643.4L67.7 642.9L71.8 642.4L76 642L80.1 641.5L84.2 641L88.4 640.6L92.5 640.1L96.6 639.6L100.8 639.1L104.9 638.7L109 638.2L113.2 637.7L117.3 637.3L121.4 636.8L125.5 636.3L129.7 635.8L133.8 635.4L137.9 634.9L142.1 634.4L146.2 634L150.3 633.5L154.5 633L158.6 632.5L162.7 632.1L166.9 631.6L171 631.1L175.1 630.7L179.3 630.2L183.4 629.8L187.5 629.3L191.7 628.9L195.8 628.5L199.9 628L204.1 627.6L208.2 627.2L212.3 626.8L216.5 626.3L220.6 625.9L224.7 625.5L228.9 625.1L233 624.6L237.1 624.2L241.2 623.8L245.4 623.4L249.5 622.9L253.6 622.5L257.8 622.1L261.9 621.7L266 621.2L270.2 620.8L274.3 620.4L278.4 620L282.6 619.6L286.7 619.2L290.8 618.8L295 618.4L299.1 618L303.2 617.6L307.4 617.2L311.5 616.8L315.6 616.4L319.8 616L323.9 615.6L328 615.2L332.2 614.9L336.3 614.5L340.4 614.1L344.6 613.7L348.7 613.3L352.8 612.9L356.9 612.5L361.1 612.1L365.2 611.7L369.3 611.3L373.5 610.9L377.6 610.5L381.7 610.1L385.9 609.8L390 609.4L394.1 609L398.3 608.6L402.4 608.2L406.5 607.8L410.7 607.4L414.8 607L418.9 606.6L423.1 606.2L427.2 605.8L431.3 605.4L435.5 605L439.6 604.7L443.7 604.3L447.9 604.2L452 604.2L456.1 604.2L460.3 604.2L464.4 604.2L468.5 604.2L472.6 604.2L476.8 604.2L480.9 604.2L485 604.2L489.2 604.2L493.3 604.2L497.4 604.2L501.6 604.2L505.7 604.2L509.8 604.2L514 604.2L518.1 604.2L522.2 604.2L526.4 604.2L530.5 604.2L534.6 604.2L538.8 604.2L542.9 604.2L547 604.2L551.2 604.2L555.3 604.1L559.4 604.1L563.6 604.1L567.7 604.1L571.8 604.1L576 604.1L580.1 604.1L584.2 604.1L588.3 604.1L592.5 604.1L596.6 604.1L600.7 604.1L604.9 604.1L609 604.1L613.1 604.1L617.3 604.1L621.4 604.1L625.5 604.1L629.7 604.1L633.8 604.1L637.9 604.1L642.1 604.1L646.2 604.1L650.3 604.1L654.5 604.1L658.6 604.1L662.7 604.1L666.9 604.1L671 604.1L675.1 604.1L679.3 604.1L683.4 604.1L687.5 604.1L691.7 604.1L695.8 604.1L699.9 604.1L704 604.1L708.2 604.1L712.3 604.1L716.4 604.1L720.6 604.1L724.7 604.1L728.8 604.1L733 604.1L737.1 604.1L741.2 604.1L745.4 604.1L749.5 604.1L753.6 604.1L757.8 604.1L761.9 604.1L766 604.1L770.2 604L774.3 604L778.4 604L782.6 604L786.7 604L790.8 604L795 604L799.1 604L803.2 604L807.4 604L811.5 604L815.6 604L819.7 604L823.9 604L828 604L832.1 604L836.3 604L840.4 604L844.5 604L848.7 604L852.8 604L856.9 604L861.1 604L865.2 604L869.3 604L873.5 604L877.6 604" stroke="#104a86" stroke-width="1" fill="none" stroke-linecap="butt" stroke-linejoin="round"/>
<path d="M55.3 650.8L74.3 648.7L93.2 646.6L112.2 644.5L131.2 642.5" stroke="#104a86" stroke-width="1" fill="none" stroke-linecap="butt" stroke-linejoin="round"/>
<path d="M131.2 642.5L140.6 641.5L150.1 640.6L159.5 639.6L169 638.7L178.4 637.8L187.9 636.8L197.3 635.9L206.8 635L216.2 634.1L225.7 633.2L235.1 632.3L244.6 631.4L254 630.5L263.5 629.7L272.9 628.8L282.4 627.9L291.8 627L301.3 626.1L310.7 625.2L320.2 624.3L329.6 623.4L339.1 622.5L348.5 621.6L358 620.7L367.4 619.8L376.9 619L386.3 618.1L395.7 617.3L405.2 616.4L414.6 615.6L424.1 614.8L433.5 614L443 613.2L452.4 612.4L461.9 611.7L471.3 610.9L480.8 610.1L490.2 609.3L499.7 608.5L509.1 607.7L518.6 606.9L528 606.1L537.5 605.4L546.9 604.7L556.4 604L565.8 603.3L575.3 602.7L584.7 602.1L594.2 601.6L603.6 601.2L613.1 600.8L622.5 600.4L631.9 600.1L641.4 599.9L650.8 599.7L660.3 599.5L669.7 599.3L679.2 599L688.6 598.7L698.1 598.3L707.5 597.8L717 597.4L726.4 597.2L735.9 597.1L745.3 597L754.8 596.9L764.2 596.8L773.7 596.7L783.1 596.7L792.6 596.6L802 596.6L811.5 596.6L820.9 596.6L830.4 596.5L839.8 596.5L849.3 596.5L858.7 596.5L868.2 596.5L877.6 596.5" stroke="#104a86" stroke-width="3.4" fill="none" stroke-linecap="round" stroke-linejoin="round"/>
<path d="M55.3 654.8L76.2 652.7L97.1 650.6L118 648.6L138.9 646.5" stroke="#104a86" stroke-width="1" fill="none" stroke-linecap="butt" stroke-linejoin="round"/>
<path d="M138.9 646.5L148.3 645.6L157.6 644.7L167 643.8L176.3 642.9L185.7 642L195 641L204.4 640.1L213.7 639.2L223.1 638.3L232.4 637.4L241.8 636.5L251.1 635.6L260.5 634.7L269.8 633.9L279.2 633.1L288.5 632.3L297.9 631.5L307.2 630.7L316.6 629.9L325.9 629.2L335.3 628.4L344.6 627.6L354 626.9L363.3 626.2L372.7 625.5L382 624.8L391.4 624.1L400.7 623.4L410.1 622.7L419.4 622.1L428.8 621.5L438.1 620.9L447.5 620.3L456.8 619.7L466.2 619.2L475.5 618.6L484.9 618.1L494.2 617.5L503.6 617L512.9 616.5L522.3 615.9L531.6 615.4L541 615L550.3 614.5L559.7 614L569 613.6L578.4 613.2L587.7 612.8L597.1 612.4L606.4 612L615.8 611.6L625.1 611.3L634.5 611L643.8 610.8L653.2 610.5L662.5 610.3L671.9 610L681.2 609.8L690.6 609.5L699.9 609.2L709.3 609L718.6 608.8L728 608.6L737.3 608.4L746.7 608.2L756 608.1L765.4 607.9L774.7 607.8L784.1 607.7L793.4 607.6L802.8 607.6L812.1 607.6L821.5 607.6L830.8 607.6L840.2 607.6L849.5 607.6L858.9 607.6L868.2 607.7L877.6 607.7" stroke="#104a86" stroke-width="2.2" fill="none" stroke-linecap="round" stroke-linejoin="round"/>
<path d="M55.3 520.5H959" stroke="#222" stroke-width="1.4"/>
<path d="M55.3 687.4H959" stroke="#777" stroke-width="1.2"/>
<path d="M55.3 519.8V688" stroke="#000" stroke-width="2"/>
<path d="M959 519.8V688" stroke="#000" stroke-width="2"/>
<path d="M48 687.4H55.3M48 631.8H55.3M48 576.2H55.3M959 687.4H966.3M959 659.6H966.3M959 631.8H966.3M959 604H966.3M959 576.2H966.3M959 548.4H966.3" stroke="#000" stroke-width="2" fill="none"/>
<circle cx="726.9" cy="597.2" r="6" fill="#ff0000"/>
<circle cx="726.9" cy="608.6" r="6" fill="#ff0000"/>
<circle cx="726.9" cy="633.5" r="6" fill="#ff0000"/>
<g font-family="'Liberation Sans', Arial, sans-serif" font-size="16" fill="#000">
<text x="27.4" y="535.1" text-anchor="middle" fill="#000" stroke="#000" font-size="16">P</text>
<text x="27.4" y="554.9" text-anchor="middle" fill="#000" stroke="#000" font-size="16" textLength="24.8" lengthAdjust="spacingAndGlyphs">[W]</text>
<text x="42.3" y="581.1" text-anchor="end" fill="#000" stroke="#000" font-size="16" textLength="35.8" lengthAdjust="spacingAndGlyphs">1000</text>
<text x="42.3" y="636.7" text-anchor="end" fill="#000" stroke="#000" font-size="16" textLength="27.2" lengthAdjust="spacingAndGlyphs">500</text>
<text x="42.3" y="692.3" text-anchor="end" fill="#000" stroke="#000" font-size="16">0</text>
<text x="967.9" y="535.2" text-anchor="start" fill="#000" stroke="#000" font-size="16" textLength="46.8" lengthAdjust="spacingAndGlyphs">NPSH</text>
<text x="978.2" y="554.8" text-anchor="start" fill="#000" stroke="#000" font-size="16" textLength="24.2" lengthAdjust="spacingAndGlyphs">[m]</text>
<text x="971" y="692.2" text-anchor="start" fill="#000" stroke="#000" font-size="16">0</text>
<text x="971" y="664.4" text-anchor="start" fill="#000" stroke="#000" font-size="16">1</text>
<text x="971" y="636.6" text-anchor="start" fill="#000" stroke="#000" font-size="16">2</text>
<text x="971" y="608.8" text-anchor="start" fill="#000" stroke="#000" font-size="16">3</text>
<text x="971" y="581" text-anchor="start" fill="#000" stroke="#000" font-size="16">4</text>
</g>
</svg>
</body></html>
